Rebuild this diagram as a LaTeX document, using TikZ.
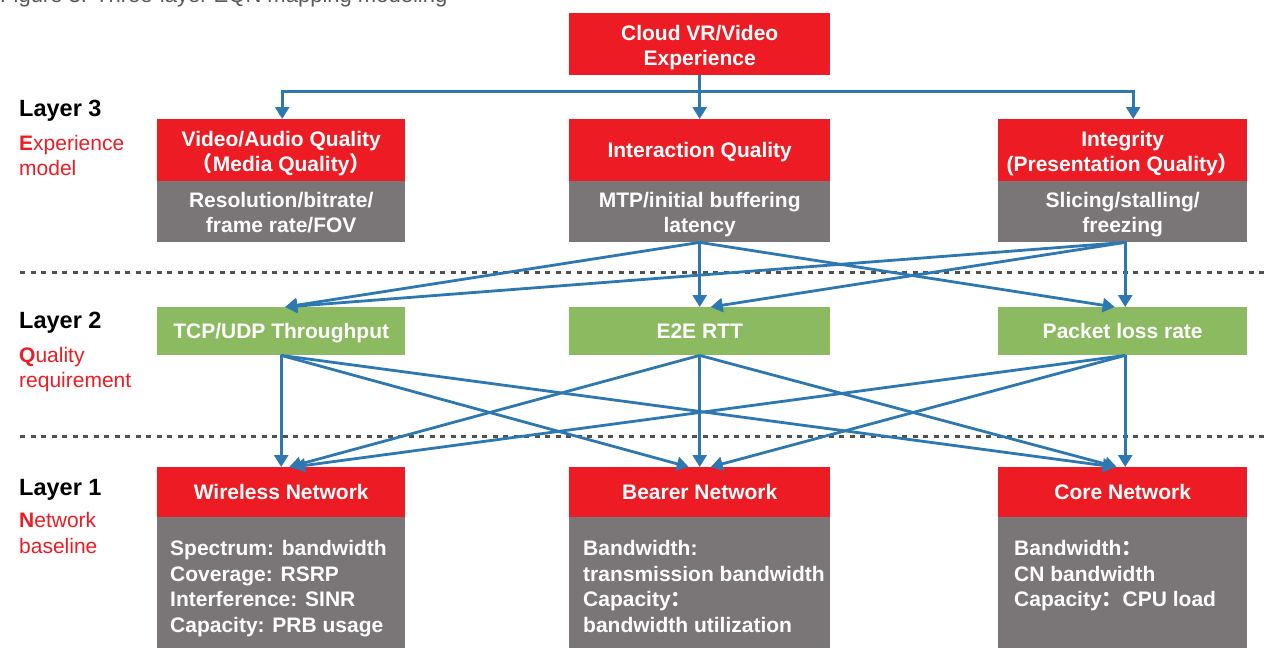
\documentclass[tikz,border=0pt]{standalone}
\usepackage{fontspec}
\setmainfont{Liberation Sans}
\newfontfamily\cjk{Noto Sans CJK SC}
\usetikzlibrary{arrows.meta,calc}
\definecolor{cred}{RGB}{237,28,36}
\definecolor{cgray}{RGB}{122,117,118}
\definecolor{cgreen}{RGB}{140,186,96}
\definecolor{cblue}{RGB}{46,120,178}
\definecolor{cdash}{RGB}{80,80,80}
\definecolor{ccap}{RGB}{90,90,90}
\newcommand\mytop{\rule{0pt}{19.5pt}}
\newcommand\mytopb{\rule{0pt}{22pt}}
\newcommand\mybot{\rule[-5pt]{0pt}{5pt}}
\begin{document}
\begin{tikzpicture}[x=1pt,y=-1pt,
 box/.style={anchor=north west, inner sep=0pt, align=center, text=white, font=\bfseries\fontsize{21}{25}\selectfont},
 redbox/.style={box, fill=cred},
 graybox/.style={box, fill=cgray},
 greenbox/.style={box, fill=cgreen},
 bodytext/.style={anchor=north west, inner sep=0pt, align=left, text=white, font=\bfseries\fontsize{21}{25.7}\selectfont},
 layer/.style={anchor=base west, inner sep=0pt, font=\bfseries\fontsize{23.5}{28}\selectfont, text=black},
 sub/.style={anchor=base west, inner sep=0pt, font=\fontsize{21}{25}\selectfont, text=cred},
 arr/.style={draw=cblue, line width=2.8pt, -{Triangle[width=14pt,length=12pt]}},
 sep/.style={draw=cdash, line width=3pt, dash pattern=on 5pt off 5.5pt},
]
\useasboundingbox (0,0) rectangle (1269,648);

% caption (cut at top)
\node[anchor=base west, inner sep=0pt, text=ccap, font=\fontsize{22}{26}\selectfont] (cap) at (0,2) {Figure 3: Three-layer EQN mapping modeling};

% separators
\coordinate (s1a) at (20,272); \coordinate (s1b) at (1269,272);
\coordinate (s2a) at (20,436); \coordinate (s2b) at (1269,436);
\draw[sep] (s1a) -- (s1b);
\draw[sep] (s2a) -- (s2b);

% layer labels
\node[layer] (l3) at (19,116) {Layer 3};
\node[sub] (l3a) at (19,150) {\textbf{E}xperience};
\node[sub] (l3b) at (19,175) {model};
\node[layer] (l2) at (19,328) {Layer 2};
\node[sub] (l2a) at (19,362) {\textbf{Q}uality};
\node[sub] (l2b) at (19,387) {requirement};
\node[layer] (l1) at (19,495) {Layer 1};
\node[sub] (l1a) at (19,527) {\textbf{N}etwork};
\node[sub] (l1b) at (19,553) {baseline};

% top
\node[redbox, minimum width=261pt, minimum height=62pt] (cloud) at (569,13) {\mytopb Cloud VR/Video\\Experience\mybot};

% layer 3
\node[redbox, minimum width=248pt, minimum height=62pt] (vq) at (157,119) {\mytopb Video/Audio Quality\\{\cjk （}Media Quality{\cjk ）}\mybot};
\node[graybox, minimum width=248pt, minimum height=61pt] (vg) at (157,181) {\mytopb Resolution/bitrate/\\frame rate/FOV\mybot};
\node[redbox, minimum width=261pt, minimum height=62pt] (iq) at (569,119) {\mytop Interaction Quality\mybot};
\node[graybox, minimum width=261pt, minimum height=61pt] (ig) at (569,181) {\mytopb MTP/initial buffering\\latency\mybot};
\node[redbox, minimum width=249pt, minimum height=62pt] (pq) at (998,119) {\mytopb Integrity\\(Presentation Quality{\cjk ）}\mybot};
\node[graybox, minimum width=249pt, minimum height=61pt] (pg) at (998,181) {\mytopb Slicing/stalling/\\freezing\mybot};

% layer 2
\node[greenbox, minimum width=248pt, minimum height=48pt] (tcp) at (157,307) {\mytop TCP/UDP Throughput\mybot};
\node[greenbox, minimum width=261pt, minimum height=48pt] (rtt) at (569,307) {\mytop E2E RTT\mybot};
\node[greenbox, minimum width=249pt, minimum height=48pt] (pl) at (998,307) {\mytop Packet loss rate\mybot};

% layer 1
\node[redbox, minimum width=248pt, minimum height=50pt] (wn) at (157,467) {\mytop Wireless Network\mybot};
\node[graybox, minimum width=248pt, minimum height=131pt] (wg) at (157,517) {};
\node[redbox, minimum width=261pt, minimum height=50pt] (bn) at (569,467) {\mytop Bearer Network\mybot};
\node[graybox, minimum width=261pt, minimum height=131pt] (bg) at (569,517) {};
\node[redbox, minimum width=249pt, minimum height=50pt] (cn) at (998,467) {\mytop Core Network\mybot};
\node[graybox, minimum width=249pt, minimum height=131pt] (cg) at (998,517) {};

\node[bodytext] (wt) at (170,540) {Spectrum: bandwidth\\Coverage: RSRP\\Interference: SINR\\Capacity: PRB usage};
\node[bodytext] (bt) at (583,540) {Bandwidth:\\transmission bandwidth\\Capacity{\cjk ：}\\bandwidth utilization};
\node[bodytext] (ct) at (1014,540) {Bandwidth{\cjk ：}\\CN bandwidth\\Capacity{\cjk ：}CPU load};

% top arrows
\coordinate (j) at ($(cloud.south)+(0,16)$);
\draw[arr] (cloud.south) -- (iq.north);
\draw[arr] (j) -| ($(vq.north)+(1,0)$);
\draw[arr] (j) -| ($(pq.north)+(10.5,0)$);

% layer 3 -> layer 2
\draw[arr] (ig.south) -- ($(tcp.north)+(4,0)$);
\draw[arr] (ig.south) -- (rtt.north);
\draw[arr] (ig.south) -- ($(pl.north)+(-8,0)$);
\coordinate (pgs) at ($(pg.south)+(2.5,0)$);
\draw[arr] (pgs) -- ($(tcp.north)+(4,0)$);
\draw[arr] (pgs) -- ($(rtt.north)+(11,0)$);
\draw[arr] (pgs) -- ($(pl.north)+(2.5,0)$);

% layer 2 -> layer 1
\draw[arr] (tcp.south) -- (wn.north);
\draw[arr] (tcp.south) -- ($(bn.north)+(-11,0)$);
\draw[arr] (tcp.south) -- ($(cn.north)+(-8,0)$);
\draw[arr] (rtt.south) -- ($(wn.north)+(8,0)$);
\draw[arr] (rtt.south) -- (bn.north);
\draw[arr] (rtt.south) -- ($(cn.north)+(-6,0)$);
\coordinate (pls) at ($(pl.south)+(2.5,0)$);
\draw[arr] (pls) -- ($(wn.north)+(12,0)$);
\draw[arr] (pls) -- ($(bn.north)+(11,0)$);
\draw[arr] (pls) -- ($(cn.north)+(2.5,0)$);
\end{tikzpicture}
\end{document}
